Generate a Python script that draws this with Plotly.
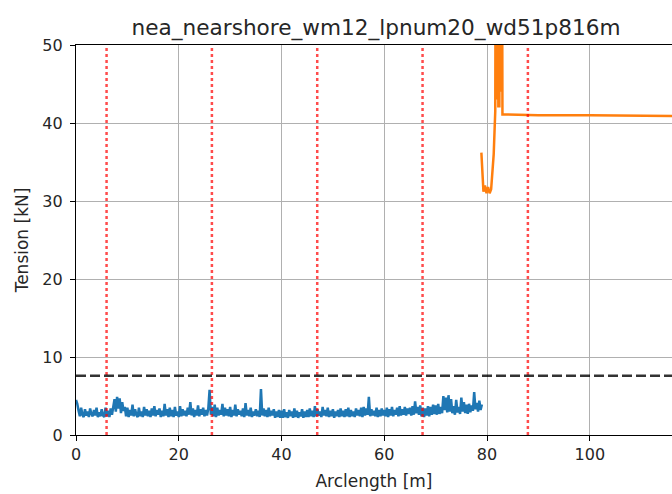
import plotly.graph_objects as go

# Tension along the line, first segment (sampled every 0.25 m)
seg1_s = [i * 0.25 for i in range(317)]
seg1_t = [
    4.5, 4.0, 3.1, 2.4, 3.5, 2.6, 2.3, 3.3, 2.5, 3.0, 2.3, 3.4, 2.7, 2.4, 3.2, 2.5, 3.5, 2.3, 2.9, 2.4,
    3.3, 2.5, 2.3, 3.5, 2.4, 3.1, 2.3, 3.4, 2.6, 3.8, 4.6, 3.0, 4.9, 3.4, 4.7, 2.8, 4.2, 3.1, 3.6, 2.4,
    3.5, 2.3, 3.2, 2.5, 3.9, 2.4, 3.3, 2.6, 2.3, 3.5, 2.4, 3.0, 2.3, 3.6, 2.5, 3.3, 2.4, 3.1, 2.3, 3.4,
    2.5, 3.7, 2.4, 3.2, 2.6, 3.4, 2.3, 3.1, 2.4, 4.0, 2.5, 3.3, 2.3, 3.5, 2.4, 3.2, 2.3, 3.6, 2.5, 3.0,
    2.3, 3.7, 2.4, 3.3, 2.5, 3.1, 2.4, 3.5, 2.6, 4.2, 2.5, 3.4, 2.3, 3.2, 2.5, 3.8, 2.4, 3.3, 2.6, 3.5,
    2.4, 3.2, 2.5, 3.4, 5.8, 2.6, 3.6, 2.4, 3.9, 2.3, 3.5, 2.5, 3.2, 2.6, 4.0, 2.4, 3.5, 2.5, 3.3, 2.4,
    3.6, 2.3, 3.2, 2.5, 3.9, 2.4, 3.3, 2.6, 3.1, 2.4, 3.4, 2.3, 4.1, 2.5, 3.2, 2.4, 3.5, 2.3, 3.0, 2.5,
    3.3, 2.4, 3.1, 2.3, 5.9, 2.5, 3.4, 2.4, 3.2, 2.3, 3.5, 2.4, 3.1, 2.5, 3.3, 2.2, 3.0, 2.3, 3.2, 2.2,
    3.1, 2.2, 3.3, 2.3, 2.9, 2.2, 3.2, 2.4, 3.0, 2.2, 3.4, 2.3, 3.1, 2.2, 2.9, 2.4, 3.3, 2.2, 3.0, 2.3,
    3.2, 2.3, 3.4, 2.4, 3.1, 2.3, 3.7, 2.4, 3.3, 2.5, 3.0, 2.3, 3.6, 2.5, 3.2, 2.4, 3.5, 2.3, 3.1, 2.4,
    3.3, 2.2, 3.0, 2.4, 3.2, 2.3, 3.4, 2.4, 3.1, 2.3, 3.3, 2.4, 3.5, 2.3, 3.2, 2.4, 3.0, 2.3, 3.4, 2.5,
    3.2, 2.4, 3.5, 2.3, 3.6, 2.5, 3.4, 2.6, 4.9, 2.4, 3.3, 2.5, 3.1, 2.4, 3.5, 2.3, 3.2, 2.4, 3.4, 2.5,
    3.2, 2.4, 3.5, 2.3, 3.3, 2.5, 3.6, 2.4, 3.2, 2.6, 3.5, 2.4, 3.7, 2.5, 3.3, 2.6, 3.6, 2.5, 3.4, 2.7,
    3.5, 2.5, 3.7, 2.6, 4.3, 2.8, 3.6, 2.6, 3.8, 2.4, 3.5, 2.3, 3.4, 2.5, 3.7, 2.4, 3.6, 2.6, 3.9, 2.7,
    3.8, 2.6, 4.0, 2.7, 3.6, 2.8, 5.0, 3.2, 4.8, 2.9, 5.1, 3.0, 4.6, 2.8, 3.7, 2.6, 4.5, 2.9, 3.6, 2.7,
    4.8, 3.0, 4.2, 2.8, 3.9, 2.7, 4.0, 2.9, 3.8, 3.1, 5.5, 3.3, 4.1, 3.0, 4.4, 3.2, 3.9,
]

# Second segment
seg2_s = [78.9, 79.1, 79.3, 79.6, 79.9, 80.2, 80.5, 80.8, 81.0, 81.3,
          81.6, 81.7, 81.8, 81.9, 82.0, 82.1, 82.2, 82.3, 82.4, 82.5,
          82.6, 82.7, 82.8, 82.9, 83.0, 90.0, 100.0, 116.0]
seg2_t = [36.2, 33.0, 31.2, 32.0, 31.0, 31.8, 31.0, 31.5, 33.0, 36.0,
          41.5, 70.0, 44.0, 72.0, 43.0, 71.0, 42.0, 73.0, 42.0, 70.0,
          44.0, 72.0, 48.0, 70.0, 41.1, 41.0, 41.0, 40.9]

# Section boundaries and tension limit
boundaries = [5.95, 26.45, 46.95, 67.45, 87.95]
limit = 7.6

x_ticks = [0, 20, 40, 60, 80, 100]
y_ticks = [0, 10, 20, 30, 40, 50]

fig = go.Figure()
fig.add_trace(go.Scatter(x=seg1_s, y=seg1_t, mode="lines",
                         line=dict(color="#1f77b4", width=2.5), showlegend=False))
fig.add_trace(go.Scatter(x=seg2_s, y=seg2_t, mode="lines",
                         line=dict(color="#ff7f0e", width=2.5), showlegend=False))

for b in boundaries:
    fig.add_trace(go.Scatter(x=[b, b], y=[0, 50], mode="lines",
                             line=dict(color="rgba(255,0,0,0.7)", width=2.5, dash="3px,3px"),
                             showlegend=False))
fig.add_trace(go.Scatter(x=[0, 116], y=[limit, limit], mode="lines",
                         line=dict(color="rgba(0,0,0,0.8)", width=2.5, dash="10px,4px"),
                         showlegend=False))

font_family = "DejaVu Sans"
fig.update_layout(
    width=672, height=494,
    margin=dict(l=76, r=0, t=45, b=59),
    plot_bgcolor="white", paper_bgcolor="white",
    font=dict(family=font_family, color="#262626"),
    title=dict(text="nea_nearshore_wm12_lpnum20_wd51p816m",
               x=376 / 672, xanchor="center", xref="container",
               y=1 - 27 / 494, yanchor="middle", yref="container",
               font=dict(size=21.6, color="#262626")),
    xaxis=dict(range=[0, 116], tickvals=x_ticks, showgrid=True,
               gridcolor="#b0b0b0", gridwidth=1, showline=True, linecolor="black",
               linewidth=1.2, mirror=True, ticks="outside", ticklen=5,
               tickcolor="black", tickfont=dict(size=16), zeroline=False,
               title=dict(text="Arclength [m]", font=dict(size=17), standoff=11)),
    yaxis=dict(range=[0, 50], tickvals=y_ticks, showgrid=True,
               gridcolor="#b0b0b0", gridwidth=1, showline=True, linecolor="black",
               linewidth=1.2, ticks="outside", ticklen=5, tickcolor="black",
               tickfont=dict(size=16), zeroline=False, ticklabelstandoff=4,
               title=dict(text="Tension [kN]", font=dict(size=17), standoff=9)),
)

fig.write_html("out.html")
